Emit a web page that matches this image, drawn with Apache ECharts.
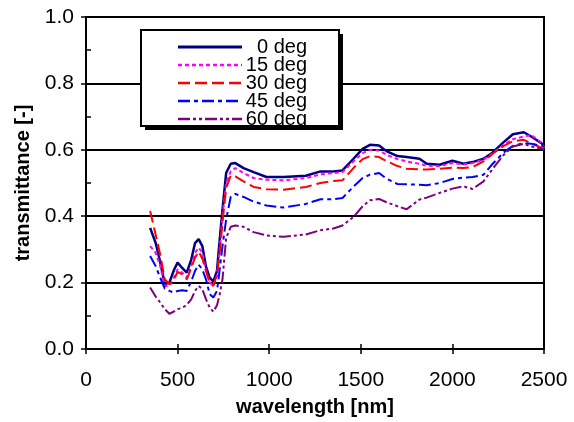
<!DOCTYPE html>
<html>
<head>
<meta charset="utf-8">
<script src="https://cdn.jsdelivr.net/npm/echarts@6/dist/echarts.min.js"></script>
<style>
  html, body { margin: 0; padding: 0; background: #fff; }
  #chart { width: 574px; height: 422px; }
</style>
</head>
<body>
<div id="chart"></div>
<script>
// Wavelength grid (nm) shared by all incidence angles
const wavelengths = [350, 380, 405, 430, 455, 480, 500, 525, 550, 575, 595, 615, 635, 655, 675, 695, 715, 730, 745, 765, 790, 815, 860, 915, 985, 1080, 1200, 1280, 1350, 1400, 1460, 1510, 1550, 1600, 1640, 1700, 1750, 1820, 1860, 1930, 2000, 2060, 2110, 2170, 2220, 2280, 2330, 2390, 2430, 2490, 2500];

// Transmittance per incidence angle
const t0deg = [0.365, 0.320, 0.262, 0.196, 0.200, 0.238, 0.260, 0.244, 0.230, 0.270, 0.319, 0.331, 0.310, 0.248, 0.215, 0.203, 0.235, 0.330, 0.420, 0.530, 0.558, 0.560, 0.545, 0.533, 0.518, 0.518, 0.522, 0.535, 0.535, 0.538, 0.573, 0.603, 0.615, 0.613, 0.596, 0.581, 0.578, 0.573, 0.558, 0.555, 0.567, 0.558, 0.563, 0.573, 0.592, 0.623, 0.647, 0.653, 0.640, 0.618, 0.612];
const t15deg = [0.310, 0.290, 0.250, 0.190, 0.190, 0.215, 0.240, 0.230, 0.215, 0.250, 0.290, 0.305, 0.290, 0.235, 0.200, 0.190, 0.220, 0.300, 0.400, 0.500, 0.535, 0.545, 0.530, 0.515, 0.510, 0.508, 0.515, 0.526, 0.530, 0.533, 0.565, 0.590, 0.600, 0.598, 0.585, 0.572, 0.565, 0.558, 0.552, 0.551, 0.560, 0.556, 0.560, 0.570, 0.590, 0.615, 0.632, 0.640, 0.645, 0.620, 0.605];
const t30deg = [0.416, 0.345, 0.285, 0.210, 0.195, 0.210, 0.232, 0.225, 0.210, 0.245, 0.275, 0.294, 0.272, 0.235, 0.200, 0.190, 0.225, 0.290, 0.380, 0.485, 0.523, 0.520, 0.505, 0.488, 0.481, 0.480, 0.488, 0.500, 0.506, 0.508, 0.545, 0.572, 0.581, 0.578, 0.566, 0.551, 0.543, 0.541, 0.541, 0.543, 0.546, 0.545, 0.548, 0.565, 0.588, 0.612, 0.626, 0.630, 0.620, 0.605, 0.600];
const t45deg = [0.280, 0.250, 0.215, 0.182, 0.175, 0.170, 0.175, 0.177, 0.175, 0.205, 0.235, 0.254, 0.240, 0.210, 0.165, 0.155, 0.175, 0.240, 0.310, 0.390, 0.458, 0.467, 0.458, 0.444, 0.432, 0.426, 0.437, 0.451, 0.451, 0.455, 0.489, 0.515, 0.525, 0.530, 0.513, 0.497, 0.496, 0.495, 0.493, 0.500, 0.512, 0.516, 0.518, 0.525, 0.558, 0.592, 0.612, 0.620, 0.618, 0.612, 0.610];
const t60deg = [0.185, 0.158, 0.140, 0.120, 0.106, 0.113, 0.120, 0.124, 0.133, 0.150, 0.175, 0.190, 0.180, 0.150, 0.125, 0.112, 0.132, 0.165, 0.210, 0.335, 0.368, 0.372, 0.368, 0.352, 0.342, 0.338, 0.345, 0.358, 0.363, 0.372, 0.398, 0.430, 0.448, 0.452, 0.442, 0.430, 0.421, 0.450, 0.456, 0.470, 0.483, 0.490, 0.482, 0.505, 0.543, 0.585, 0.610, 0.618, 0.610, 0.603, 0.600];

const seriesNames = ['0 deg', '15 deg', '30 deg', '45 deg', '60 deg'];
const xTicks = [0, 500, 1000, 1500, 2000, 2500];
const yTicks = [0.0, 0.2, 0.4, 0.6, 0.8, 1.0];

const FONT = '"Liberation Sans", Arial, Helvetica, sans-serif';
const styles = [
  { color: '#000080', width: 2.5, dash: 'solid' },
  { color: '#ff00ff', width: 2, dash: [4, 3] },
  { color: '#ff0000', width: 2, dash: [12, 5] },
  { color: '#0000ff', width: 2, dash: [12, 4, 4, 4] },
  { color: '#800080', width: 2, dash: [12, 3, 3, 3, 3, 3] }
];
const values = [t0deg, t15deg, t30deg, t45deg, t60deg];

const series = values.map((vals, i) => ({
  name: seriesNames[i],
  type: 'line',
  xAxisIndex: 0,
  yAxisIndex: 0,
  showSymbol: false,
  smooth: false,
  animation: false,
  data: wavelengths.map((w, k) => [w, vals[k]]),
  lineStyle: { color: styles[i].color, width: styles[i].width, type: styles[i].dash }
}));

// Legend box, drawn as graphics
const box = { x: 141, y: 30, w: 198, h: 96 };
const rowY = [47, 65, 83, 101, 119];
const legendItems = [];
legendItems.push({ type: 'rect', z: 100, shape: { x: box.x, y: box.y, width: box.w, height: box.h }, style: { fill: '#fff', stroke: null } });
seriesNames.forEach((name, i) => {
  legendItems.push({
    type: 'line', z: 101,
    shape: { x1: 178, y1: rowY[i], x2: 242, y2: rowY[i] },
    style: { stroke: styles[i].color, lineWidth: styles[i].width + 0.5, lineDash: styles[i].dash === 'solid' ? null : styles[i].dash }
  });
  legendItems.push({
    type: 'text', z: 101, x: 307, y: rowY[i],
    style: { text: name, fill: '#000', font: '20px ' + FONT, textAlign: 'right', textVerticalAlign: 'middle' }
  });
});
// clip text overflowing the bottom of the box
legendItems.push({ type: 'rect', z: 102, shape: { x: box.x - 1, y: box.y + box.h, width: box.w + 6, height: 14 }, style: { fill: '#fff' } });
legendItems.push({ type: 'rect', z: 103, shape: { x: box.x, y: box.y, width: box.w, height: box.h }, style: { fill: null, stroke: '#000', lineWidth: 2 } });
// drop shadow
legendItems.push({ type: 'rect', z: 103, shape: { x: box.x + 4, y: box.y + box.h + 1, width: box.w, height: 3 }, style: { fill: '#000' } });
legendItems.push({ type: 'rect', z: 103, shape: { x: box.x + box.w + 1, y: box.y + 4, width: 3, height: box.h }, style: { fill: '#000' } });

const chart = echarts.init(document.getElementById('chart'), null, { renderer: 'canvas' });
chart.setOption({
  animation: false,
  backgroundColor: '#fff',
  textStyle: { fontFamily: FONT },
  grid: { left: 86, right: 30, top: 17, bottom: 67, show: true, borderColor: '#000', borderWidth: 2, backgroundColor: 'transparent' },
  xAxis: [
    {
      type: 'value', min: xTicks[0], max: xTicks[xTicks.length - 1], interval: xTicks[1] - xTicks[0],
      name: 'wavelength [nm]', nameLocation: 'middle', nameGap: 48,
      nameTextStyle: { fontSize: 20, fontWeight: 'bold', color: '#000', fontFamily: FONT },
      axisLine: { lineStyle: { color: '#000', width: 2 } },
      axisTick: { length: 5, lineStyle: { color: '#000', width: 1.5 } },
      axisLabel: { fontSize: 21, color: '#000', margin: 21, fontFamily: FONT, formatter: v => String(v) },
      splitLine: { show: false }
    },
    {
      type: 'value', position: 'bottom', min: xTicks[0], max: xTicks[xTicks.length - 1], interval: xTicks[1] - xTicks[0],
      axisLine: { show: false },
      axisTick: { inside: true, length: 5, lineStyle: { color: '#000', width: 1.5 } },
      axisLabel: { show: false },
      splitLine: { show: false }
    }
  ],
  yAxis: [
    {
      type: 'value', min: yTicks[0], max: yTicks[yTicks.length - 1], interval: 0.2,
      name: 'transmittance [-]', nameLocation: 'middle', nameGap: 44, nameRotate: 90,
      nameTextStyle: { fontSize: 20, fontWeight: 'bold', color: '#000', fontFamily: FONT },
      axisLine: { show: true, lineStyle: { color: '#000', width: 2 } },
      axisTick: { show: true, length: 5, lineStyle: { color: '#000', width: 1.5 } },
      axisLabel: { fontSize: 21, color: '#000', margin: 12, fontFamily: FONT, formatter: v => v.toFixed(1) },
      splitLine: { show: true, lineStyle: { color: '#000', width: 2 } }
    },
    {
      type: 'value', position: 'left', min: 0, max: 1, interval: 0.1,
      axisLine: { show: false },
      axisTick: { show: true, inside: true, length: 5, lineStyle: { color: '#000', width: 1.5 } },
      axisLabel: { show: false },
      splitLine: { show: false }
    }
  ],
  series: series,
  graphic: { elements: legendItems }
});
</script>
</body>
</html>
